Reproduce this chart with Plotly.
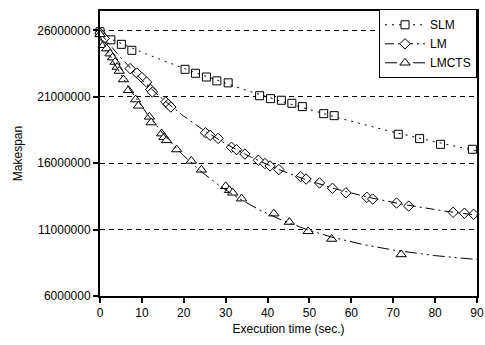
import numpy as np
import plotly.graph_objects as go

# ---- data ----
slm_x = [0, 2.6, 5.1, 7.6, 20.3, 22.8, 25.4, 27.9, 30.6, 38.1, 40.7, 43.3, 45.8, 48.3,
         53.4, 55.9, 71.2, 76.3, 81.3, 88.9]
slm_y = [25.9e6, 25.29e6, 24.95e6, 24.50e6, 23.07e6, 22.77e6, 22.49e6, 22.20e6, 22.05e6,
         21.08e6, 20.86e6, 20.74e6, 20.51e6, 20.26e6, 19.73e6, 19.58e6, 18.18e6, 17.85e6,
         17.42e6, 17.05e6]

lm_x = [0, 0.5, 1.0, 7.2, 8.8, 10.0, 11.1, 12.1, 12.5, 15.7, 16.3, 16.9, 25.2, 26.3, 28.2,
        31.4, 32.6, 34.6, 37.8, 39.4, 40.6, 42.7, 47.9, 49.2, 52.4, 55.5, 58.7, 63.7,
        65.1, 70.8, 73.7, 84.3, 87.0, 89.2]
lm_y = [25.8e6, 25.6e6, 25.4e6, 23.12e6, 22.79e6, 22.45e6, 22.11e6, 21.54e6, 21.36e6,
        20.61e6, 20.44e6, 20.23e6, 18.29e6, 18.10e6, 17.87e6, 17.20e6, 17.02e6, 16.69e6,
        16.22e6, 15.97e6, 15.79e6, 15.52e6, 14.99e6, 14.81e6, 14.51e6, 14.11e6, 13.77e6,
        13.43e6, 13.30e6, 13.00e6, 12.77e6, 12.30e6, 12.23e6, 12.15e6]

lmcts_x = [0, 0.8, 1.6, 2.4, 3.0, 3.6, 4.1, 4.6, 5.6, 6.8, 8.5, 9.2, 11.8, 12.2, 14.7,
           15.3, 15.9, 18.3, 21.8, 24.2, 30.0, 30.9, 31.7, 33.8, 41.5, 45.2, 49.7, 55.3,
           71.9]
lmcts_y = [25.7e6, 24.88e6, 24.63e6, 24.25e6, 23.95e6, 23.62e6, 23.24e6, 22.94e6,
           22.30e6, 21.49e6, 20.79e6, 20.32e6, 19.49e6, 19.06e6, 18.23e6, 17.95e6,
           17.72e6, 17.03e6, 16.17e6, 15.50e6, 14.26e6, 13.96e6, 13.77e6, 13.33e6,
           12.20e6, 11.57e6, 10.87e6, 10.29e6, 9.13e6]

y_ticks = [6000000, 11000000, 16000000, 21000000, 26000000]
x_ticks = [0, 10, 20, 30, 40, 50, 60, 70, 80, 90]


def trend(xs, ys, x_end=90):
    """Exponential trendline y = a + b*exp(-c x), fitted to the read values."""
    xs = np.asarray(xs, float)
    ys = np.asarray(ys, float)
    best = None
    for c in np.linspace(0.002, 0.2, 500):
        A = np.column_stack([np.ones_like(xs), np.exp(-c * xs)])
        coef, *_ = np.linalg.lstsq(A, ys, rcond=None)
        r = np.sum((A @ coef - ys) ** 2)
        if best is None or r < best[0]:
            best = (r, c, coef)
    _, c, (a, b) = best
    tx = np.linspace(0, x_end, 200)
    return tx, a + b * np.exp(-c * tx)


FONT = "Liberation Sans, Arial, sans-serif"
series = [
    ("SLM", slm_x, slm_y, "square", 8, "2px,5px"),
    ("LM", lm_x, lm_y, "diamond", 8, "9px,4px,2px,4px"),
    ("LMCTS", lmcts_x, lmcts_y, "triangle-up", 9, "12px,4px,2px,4px,2px,4px"),
]

fig = go.Figure()
for name, xs, ys, sym, sz, dash in series:
    fig.add_trace(go.Scatter(
        x=xs, y=ys, mode="markers", showlegend=False, cliponaxis=False,
        marker=dict(symbol=sym, size=sz, color="white",
                    line=dict(color="black", width=1))))
    tx, ty = trend(xs, ys)
    fig.add_trace(go.Scatter(
        x=tx, y=ty, mode="lines", showlegend=False, hoverinfo="skip",
        line=dict(color="black", width=1, dash=dash)))
    # legend entry
    fig.add_trace(go.Scatter(
        x=[None], y=[None], mode="lines+markers", name=name,
        marker=dict(symbol=sym, size=sz, color="white",
                    line=dict(color="black", width=1)),
        line=dict(color="black", width=1, dash=dash)))

fig.update_layout(
    template="none",
    width=485, height=345,
    margin=dict(l=100, r=8, t=11, b=49),
    paper_bgcolor="white", plot_bgcolor="white",
    font=dict(family=FONT, size=12, color="black"),
    legend=dict(x=1.0, xanchor="right", y=1.006, yanchor="top",
                bgcolor="white", bordercolor="black", borderwidth=1,
                font=dict(family=FONT, size=12), tracegroupgap=0,
                itemwidth=40),
)
fig.update_xaxes(
    automargin=False,
    range=[0, 90], tickvals=x_ticks, ticks="outside", ticklen=5, tickwidth=1.5,
    tickcolor="black", showline=True, linecolor="black", linewidth=2, mirror=True,
    showgrid=False, zeroline=False, ticklabelstandoff=0,
    title=dict(text="Execution time (sec.)", font=dict(size=12), standoff=5),
)
fig.update_yaxes(
    automargin=False,
    range=[6000000, 27460000], tickvals=y_ticks, tickformat="d",
    ticks="outside", ticklen=5, tickwidth=1.5, tickcolor="black",
    showline=True, linecolor="black", linewidth=2, mirror=True,
    showgrid=True, gridcolor="black", gridwidth=1, griddash="5px,4px",
    zeroline=False, ticklabelstandoff=0,
    title=dict(text="Makespan", font=dict(size=12), standoff=12),
)

fig.write_html(
    "out.html",
    config={"displayModeBar": False},
    post_script="document.body.style.margin='0';document.body.style.overflow='hidden';",
)
